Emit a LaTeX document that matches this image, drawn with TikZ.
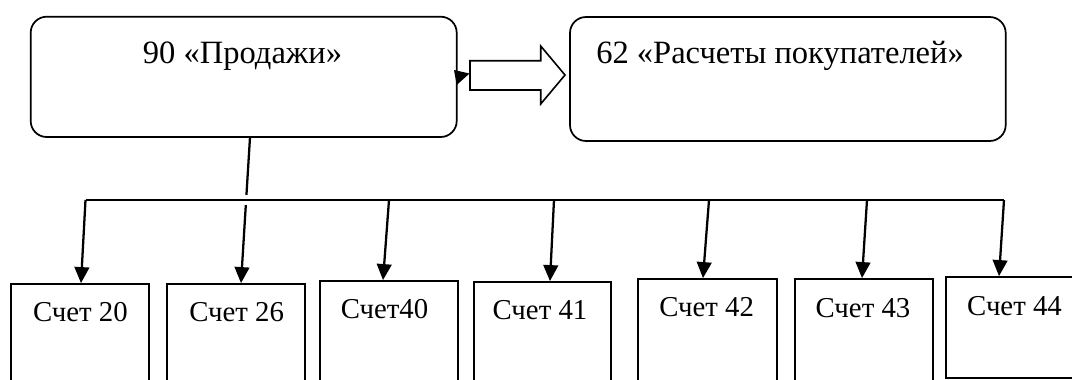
\documentclass[tikz,border=0pt]{standalone}
\usepackage{fontspec}
\setmainfont{Liberation Serif}
\usetikzlibrary{arrows.meta,fit}

\tikzset{
  % 1 unit = 1 px of a 1072 x 379 canvas
  acct/.style={draw, rounded corners=12pt, line width=1.3pt, inner sep=0pt},
  sub/.style={draw, line width=1.35pt, inner sep=0pt},
  title/.style={inner sep=0pt, anchor=base, font=\fontsize{24.4}{29}\selectfont},
  subtxt/.style={inner sep=0pt, anchor=base, font=\fontsize{21.6}{26}\selectfont},
  link/.style={line width=1.7pt, -{Triangle[width=11pt,length=12pt]}},
  bus/.style={line width=1.6pt},
  flow/.style={draw, line width=1.2pt, line join=miter}
}

\begin{document}
\begin{tikzpicture}[x=0.75pt,y=-0.75pt]
\useasboundingbox (0,0) rectangle (1072,379);

% top accounts
\node[acct, fit={(30.7,16.7)(456.7,137)}] (b90) {};
\node[acct, fit={(570,17)(1005.7,141)}] (b62) {};
\node[title] (t90) at (242.5,63.3) {90 «Продажи»};
\node[title, anchor=base west] (t62) at (596,63.3) {62 «Расчеты покупателей»};

% block arrow between the two accounts
\draw[flow] (470,60.7) -- (540.7,60.7) -- (540.7,46) -- (565,75)
  -- (540.7,104) -- (540.7,90) -- (470,90) -- cycle;
\fill (454,70) -- (469.5,73.5) -- (456.7,85) -- cycle;

% sub-accounts
\node[sub, fit={(11,284)(149,400)}] (b20) {};
\node[sub, fit={(167,284)(305,400)}] (b26) {};
\node[sub, fit={(320,281)(458,400)}] (b40) {};
\node[sub, fit={(474,282)(611,400)}] (b41) {};
\node[sub, fit={(638,279)(777,400)}] (b42) {};
\node[sub, fit={(795,279)(933,400)}] (b43) {};
\node[sub, fit={(946,277)(1083,377.7)}] (b44) {};

\node[subtxt] (t20) at (80.4,321.7) {Счет 20};
\node[subtxt] (t26) at (236.7,321.7) {Счет 26};
\node[subtxt] (t40) at (384.5,318) {Счет40};
\node[subtxt] (t41) at (540,319) {Счет 41};
\node[subtxt] (t42) at (706.7,316.7) {Счет 42};
\node[subtxt] (t43) at (863,317.7) {Счет 43};
\node[subtxt] (t44) at (1014.5,315.8) {Счет 44};

% line from 90 down to account 26
\draw[link] ([xshift=4.7pt]b90.south) -- ([xshift=3.75pt]b26.north);

% distribution bus
\coordinate (j20) at (85.5,200);
\coordinate (j40) at (389,200);
\coordinate (j41) at (554,200);
\coordinate (j42) at (709,200);
\coordinate (j43) at (867,200);
\coordinate (j44) at (1004,200);
\draw[bus, preaction={draw=white, line width=7pt}] (j20) -- (j44);

\draw[link] (j20) -- ([xshift=0.75pt]b20.north);
\draw[link] (j40) -- ([xshift=-4.5pt]b40.north);
\draw[link] (j41) -- ([xshift=5.6pt]b41.north);
\draw[link] (j42) -- ([xshift=-3.4pt]b42.north);
\draw[link] (j43) -- ([xshift=-1.5pt]b43.north);
\draw[link] (j44) -- ([xshift=-11.6pt]b44.north);
\end{tikzpicture}
\end{document}
